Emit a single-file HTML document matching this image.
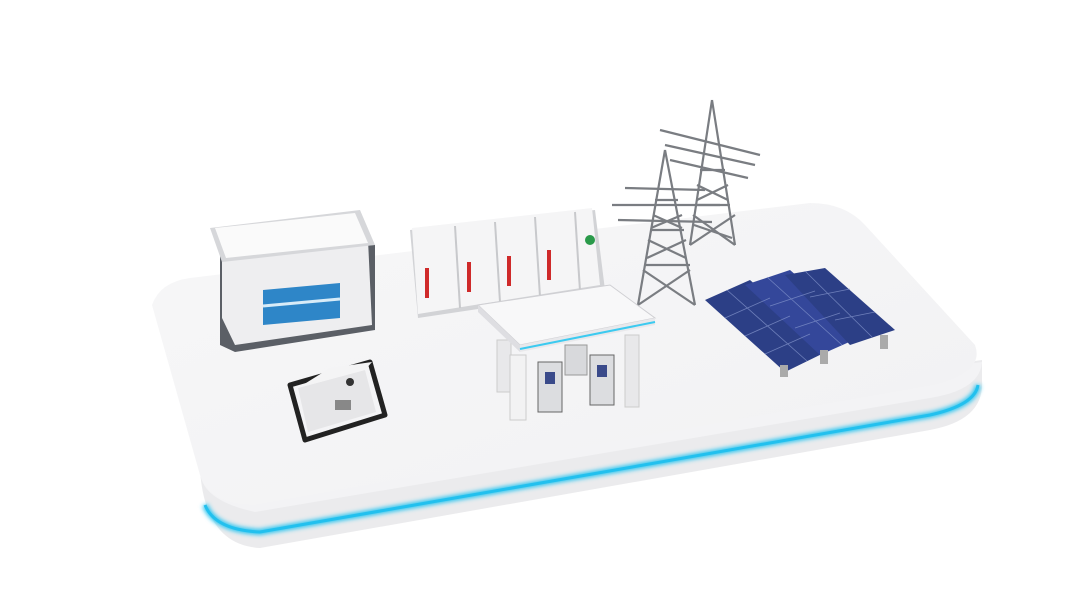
<!DOCTYPE html>
<html><head><meta charset="utf-8"><style>
html,body{margin:0;padding:0;background:#fff;width:1080px;height:608px;overflow:hidden}
</style></head><body>
<svg width="1080" height="608" viewBox="0 0 1080 608" xmlns="http://www.w3.org/2000/svg">
<defs>
<linearGradient id="top" x1="0" y1="0" x2="1" y2="1">
<stop offset="0" stop-color="#f7f7f8"/><stop offset="1" stop-color="#f1f1f3"/></linearGradient>
<filter id="blur"><feGaussianBlur stdDeviation="2"/></filter>
</defs>
<!-- platform base layers -->
<path d="M200,470 Q205,545 260,548 L930,430 Q985,420 982,380 L982,360 L200,470 Z" fill="#ebebed"/>
<path d="M205,505 Q215,530 260,532 L930,415 Q975,405 978,385" fill="none" stroke="#2fc6f0" stroke-width="6" filter="url(#blur)"/>
<path d="M205,505 Q215,530 260,532 L930,415 Q975,405 978,385" fill="none" stroke="#22c0ee" stroke-width="3"/>
<path d="M200,470 Q200,500 255,512 L930,398 Q980,390 982,362 L200,470Z" fill="#f3f3f5"/>
<!-- top surface -->
<path d="M190,278 Q160,282 152,305 L200,475 Q210,505 255,505 L935,385 Q985,372 975,345 L865,225 Q845,203 810,203 Z" fill="url(#top)"/>
<!-- building -->
<polygon points="220,250 375,245 375,330 235,352 220,345" fill="#5b5f66"/>
<polygon points="222,248 368,240 372,325 235,345 222,318" fill="#eeeef0"/>
<polygon points="210,228 360,210 375,245 222,262" fill="#d6d7da"/>
<polygon points="215,228 355,213 368,243 226,258" fill="#fafafa"/>
<polygon points="263,290 340,283 340,318 263,325" fill="#2e86c8"/>
<line x1="263" y1="306" x2="340" y2="299" stroke="#d8ecf8" stroke-width="3"/>
<!-- cabinets -->
<polygon points="410,230 595,210 605,290 418,318" fill="#d2d3d6"/>
<polygon points="412,228 592,208 600,285 418,314" fill="#f5f5f6"/>
<g stroke="#c8c9cc" stroke-width="2">
<line x1="455" y1="226" x2="460" y2="308"/><line x1="495" y1="222" x2="500" y2="302"/>
<line x1="535" y1="217" x2="540" y2="297"/><line x1="575" y1="212" x2="580" y2="291"/></g>
<g fill="#cf2a2a"><rect x="425" y="268" width="4" height="30"/><rect x="467" y="262" width="4" height="30"/><rect x="507" y="256" width="4" height="30"/><rect x="547" y="250" width="4" height="30"/></g>
<circle cx="590" cy="240" r="5" fill="#2a9a4a"/>
<!-- towers -->
<g stroke="#7a7d82" stroke-width="2.2" fill="none">
<path d="M712,100 L690,245 M712,100 L735,245"/>
<path d="M700,170 L725,170 M695,205 L730,205 M690,245 L735,215 M735,245 L693,215 M697,185 L728,200 M728,185 L697,200 M694,225 L732,238"/>
<path d="M660,130 L760,155 M665,145 L755,165 M670,160 L748,178"/>
<path d="M665,150 L638,305 M665,150 L695,305"/>
<path d="M650,230 L684,230 M645,265 L690,265 M638,305 L690,270 M695,305 L643,270 M655,200 L678,200 M653,215 L682,228 M682,215 L651,228 M648,240 L686,258 M686,240 L647,258"/>
<path d="M612,205 L720,205 M618,220 L712,222 M625,188 L705,190"/>
</g>
<!-- solar panels -->
<g>
<polygon points="705,300 750,280 830,350 785,372" fill="#2c3f86"/>
<polygon points="745,285 790,270 865,335 820,355" fill="#34479a"/>
<polygon points="785,275 825,268 895,330 850,345" fill="#2c3f86"/>
<g stroke="#8a9bd0" stroke-width="0.8" opacity="0.7">
<line x1="727" y1="290" x2="807" y2="361"/><line x1="767" y1="277" x2="842" y2="345"/><line x1="805" y1="271" x2="872" y2="337"/>
<line x1="725" y1="318" x2="770" y2="298"/><line x1="745" y1="336" x2="790" y2="316"/><line x1="765" y1="354" x2="810" y2="334"/>
<line x1="770" y1="306" x2="815" y2="291"/><line x1="795" y1="328" x2="840" y2="313"/>
<line x1="810" y1="297" x2="850" y2="289"/><line x1="835" y1="320" x2="875" y2="312"/></g>
<g fill="#aaa"><rect x="780" y="365" width="8" height="12"/><rect x="820" y="350" width="8" height="14"/><rect x="880" y="335" width="8" height="14"/></g>
</g>
<!-- canopy -->
<rect x="497" y="340" width="14" height="52" fill="#e8e8ea" stroke="#ccc"/>
<rect x="625" y="335" width="14" height="72" fill="#e8e8ea" stroke="#ccc"/>
<rect x="510" y="355" width="16" height="65" fill="#f2f2f3" stroke="#ccc"/>
<rect x="565" y="345" width="22" height="30" fill="#d8d9dc" stroke="#999"/>
<rect x="538" y="362" width="24" height="50" fill="#dcdde0" stroke="#666"/>
<rect x="545" y="372" width="10" height="12" fill="#3a4a8a"/>
<rect x="590" y="355" width="24" height="50" fill="#dcdde0" stroke="#666"/>
<rect x="597" y="365" width="10" height="12" fill="#3a4a8a"/>
<polygon points="478,305 610,285 655,318 520,345" fill="#f8f8f9" stroke="#cfcfd3"/>
<polygon points="478,305 520,345 520,352 478,312" fill="#dedee2"/>
<polygon points="520,345 655,318 655,325 520,352" fill="#e8e8eb"/>
<line x1="520" y1="349" x2="655" y2="322" stroke="#3ccaf0" stroke-width="2"/>
<!-- generator -->
<path d="M290,385 L370,362 L385,415 L305,440 Z" fill="none" stroke="#222" stroke-width="5" stroke-linejoin="round"/>
<polygon points="298,388 365,370 376,412 308,432" fill="#e6e6e8"/>
<polygon points="298,388 330,368 372,362 365,370" fill="#f4f4f5"/>
<circle cx="350" cy="382" r="4" fill="#333"/>
<rect x="335" y="400" width="16" height="10" fill="#888"/>
</svg>
</body></html>
